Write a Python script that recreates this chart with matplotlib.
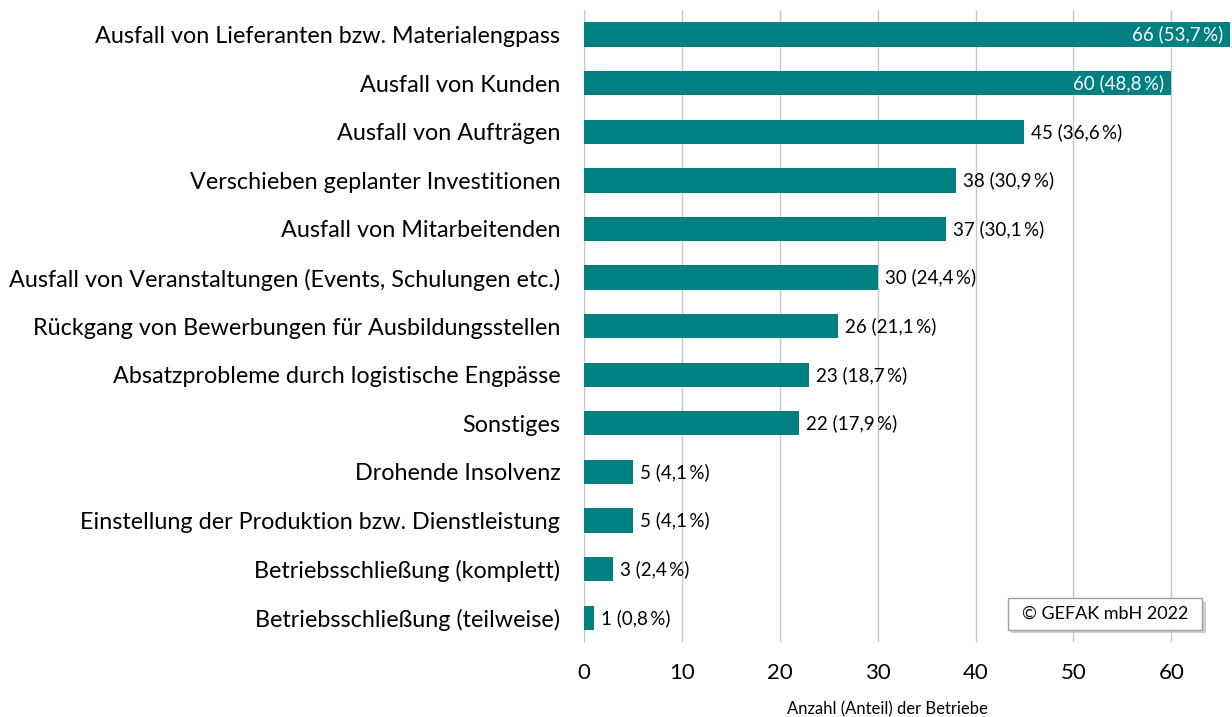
import matplotlib
matplotlib.use("Agg")
from matplotlib import pyplot as plt
from matplotlib.patches import FancyBboxPatch

categories = [
    "Ausfall von Lieferanten bzw. Materialengpass",
    "Ausfall von Kunden",
    "Ausfall von Aufträgen",
    "Verschieben geplanter Investitionen",
    "Ausfall von Mitarbeitenden",
    "Ausfall von Veranstaltungen (Events, Schulungen etc.)",
    "Rückgang von Bewerbungen für Ausbildungsstellen",
    "Absatzprobleme durch logistische Engpässe",
    "Sonstiges",
    "Drohende Insolvenz",
    "Einstellung der Produktion bzw. Dienstleistung",
    "Betriebsschließung (komplett)",
    "Betriebsschließung (teilweise)",
]
counts = [66, 60, 45, 38, 37, 30, 26, 23, 22, 5, 5, 3, 1]
shares = ["53,7", "48,8", "36,6", "30,9", "30,1", "24,4", "21,1", "18,7", "17,9", "4,1", "4,1", "2,4", "0,8"]
xticks = [0, 10, 20, 30, 40, 50, 60]

plt.rcParams["font.family"] = ["Lato", "DejaVu Sans"]

teal = "#008080"

fig = plt.figure(figsize=(12.32, 7.17), dpi=100)
ax = fig.add_axes([0.474, 0.1046, 0.526, 0.881])

ypos = list(range(len(categories)))
ax.barh(ypos, counts, height=0.5, color=teal, zorder=3)
ax.set_ylim(len(categories) - 0.5, -0.5)
ax.set_xlim(0, 66.2)

for y, c, s in zip(ypos, counts, shares):
    label = "%d (%s\u2009%%)" % (c, s)
    if c >= 60:
        ax.annotate(label, (c, y), xytext=(-5, 0), textcoords="offset points",
                    ha="right", va="center", color="white", fontsize=13.5)
    else:
        ax.annotate(label, (c, y), xytext=(5, 0), textcoords="offset points",
                    ha="left", va="center", color="black", fontsize=13.5)

ax.set_yticks(ypos)
ax.set_yticklabels(categories, fontsize=16.8)
ax.set_xticks(xticks)
ax.set_xticklabels([str(t) for t in xticks], fontsize=16)
ax.tick_params(axis="both", length=0)
ax.tick_params(axis="y", pad=17)
ax.tick_params(axis="x", pad=15)

ax.grid(axis="x", color="#c8c8c8", linewidth=1, zorder=0)
for side in ["top", "right", "bottom"]:
    ax.spines[side].set_visible(False)
ax.spines["left"].set_color("#c8c8c8")

ax.set_xlabel("Anzahl (Anteil) der Betriebe", fontsize=12, labelpad=9)
ax.xaxis.set_label_coords(0.4676, -0.094)

# Copyright box with shadow
shadow = FancyBboxPatch((0.821, 0.117), 0.158, 0.044, boxstyle="square,pad=0",
                        transform=fig.transFigure, facecolor="#b0b0b0",
                        edgecolor="none", alpha=0.6, zorder=5)
box = FancyBboxPatch((0.818, 0.122), 0.158, 0.044, boxstyle="square,pad=0",
                     transform=fig.transFigure, facecolor="white",
                     edgecolor="#a0a0a0", linewidth=1, zorder=6)
fig.patches.append(shadow)
fig.patches.append(box)
fig.text(0.897, 0.144, "© GEFAK mbH 2022", ha="center", va="center",
         fontsize=13, zorder=7)

fig.savefig("out.png", dpi=100)
